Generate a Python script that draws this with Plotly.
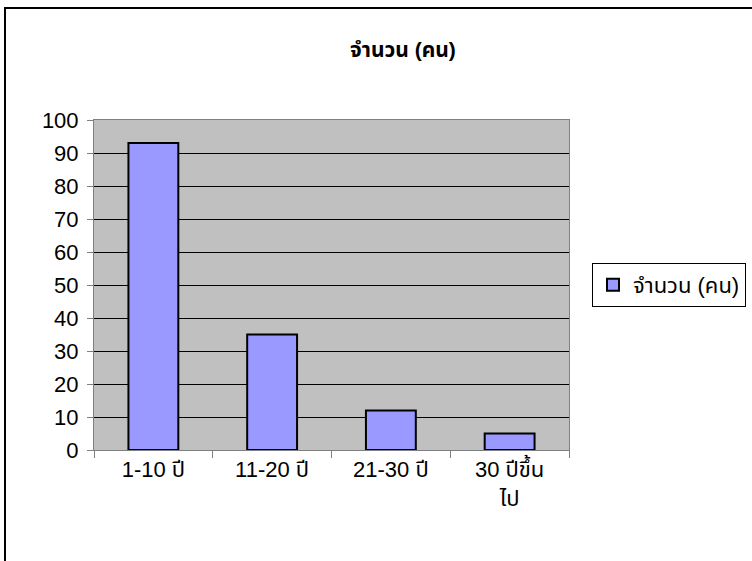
import plotly.graph_objects as go

categories = ["1-10 ปี", "11-20 ปี", "21-30 ปี", "30 ปีขึ้น<br>ไป"]
values = [93, 35, 12, 5]
series_name = "จำนวน (คน)"
title_text = "<b>จำนวน (คน)</b>"
y_ticks = [0, 10, 20, 30, 40, 50, 60, 70, 80, 90, 100]

FONT = "Liberation Sans, Arial, Noto Sans Thai, Noto Sans, sans-serif"

fig = go.Figure()
fig.add_trace(go.Bar(
    x=categories, y=values, name=series_name,
    marker=dict(color="#9999FF", line=dict(color="black", width=2)),
    showlegend=True,
))

W, H = 752, 561
L, R, T, B = 94, 183, 120, 111
pw = W - L - R
ph = H - T - B

fig.update_layout(
    width=W, height=H,
    margin=dict(l=L, r=R, t=T, b=B, autoexpand=False),
    paper_bgcolor="white",
    plot_bgcolor="#C0C0C0",
    bargap=0.58,
    font=dict(family=FONT, size=22, color="black"),
    title=dict(text=title_text, x=403 / W, xref="container", xanchor="center",
               y=1 - 50 / H, yref="container", yanchor="middle",
               font=dict(size=21, family=FONT)),
    legend=dict(x=(592 - L) / pw, y=(H - B - 263) / ph, xanchor="left", yanchor="top",
                bordercolor="black", borderwidth=1, bgcolor="white",
                font=dict(size=22, family=FONT), itemwidth=30,
                tracegroupgap=0),
    showlegend=True,
)
fig.update_xaxes(
    showline=True, linecolor="#808080", linewidth=1, mirror=True,
    ticks="outside", tickson="boundaries", ticklen=7, tickcolor="#808080",
    showgrid=False, tickfont=dict(size=22), ticklabelstandoff=0,
)
fig.update_yaxes(
    range=[0, 100], tickvals=y_ticks, showline=True, linecolor="#808080",
    linewidth=1, mirror=True, ticks="outside", ticklen=6, tickcolor="#808080",
    showgrid=True, gridcolor="black", gridwidth=1, zeroline=False,
    tickfont=dict(size=22), ticklabelstandoff=4,
)
# outer chart border (partially outside the image)
fig.add_shape(type="rect", xref="paper", yref="paper",
              x0=(5 - L) / pw, x1=(820 - L) / pw,
              y0=(H - B - 620) / ph, y1=(H - B - 8) / ph,
              line=dict(color="black", width=2), fillcolor="rgba(0,0,0,0)", layer="above")

fig.write_html("out.html", config={"displayModeBar": False},
               post_script="document.body.style.margin='0';")
